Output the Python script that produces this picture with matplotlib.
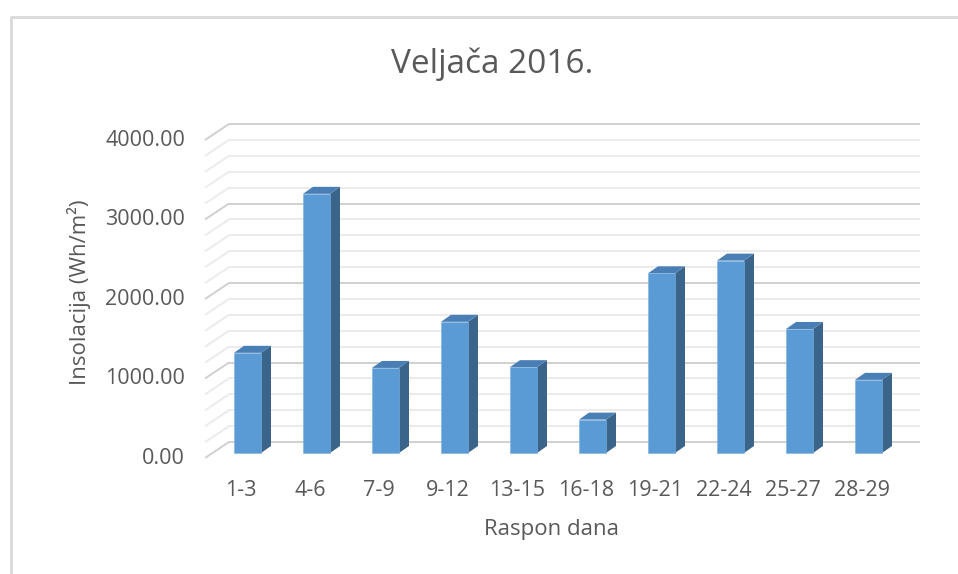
import numpy as np
import matplotlib
matplotlib.use("Agg")
import matplotlib.pyplot as plt
from matplotlib.patches import Polygon

# data
categories = ["1-3", "4-6", "7-9", "9-12", "13-15", "16-18", "19-21", "22-24", "25-27", "28-29"]
values = [1260, 3260, 1070, 1650, 1080, 420, 2260, 2420, 1560, 920]
ytick_values = [0, 1000, 2000, 3000, 4000]
ytick_labels = ["0.00", "1000.00", "2000.00", "3000.00", "4000.00"]

title = "Veljača 2016."
xlabel = "Raspon dana"
ylabel = "Insolacija (Wh/m²)"

plt.rcParams['font.family'] = ['Open Sans', 'DejaVu Sans']
txt_col = '#595959'

# pixel layout: 1 category = 69 px, 1000 units = 79.5 px, front zero at y=458
W, H = 958, 574
sx = 69.0
sy = 0.0795
x0px = 241.0
y0px = 458.0

def dx(px):
    return (px - x0px) / sx

def dy(py):
    return (y0px - py) / sy

fig = plt.figure(figsize=(W / 100.0, H / 100.0), dpi=100)
ax = fig.add_axes([0, 0, 1, 1])
ax.set_xlim(dx(0), dx(W))
ax.set_ylim(dy(H), dy(0))
ax.axis('off')

# depth of the 3d box
depth_x = 24 / sx
depth_y = 16 / sy
front_left = dx(205)
back_right = dx(920)

# grid on the back wall + the diagonals on the left wall
for v in np.arange(0, 4001, 200):
    major = (v % 1000 == 0)
    col = '#D0D0D0' if major else '#EBEBEB'
    ax.plot([front_left + depth_x, back_right], [v + depth_y, v + depth_y],
            color=col, lw=1.4, zorder=1, solid_capstyle='butt')
    ax.plot([front_left, front_left + depth_x], [v, v + depth_y],
            color=col, lw=1.4, zorder=1, solid_capstyle='butt')

# bars (front, top and side faces)
bar_off = -7 / sx
bar_w = 27 / sx
bar_bot = 5 / sy
bdx = 10 / sx
bdy = 7 / sy
c_front = '#5B9BD5'
c_top = '#4A7FB5'
c_side = '#3A6489'

for i, v in enumerate(values):
    xl = i + bar_off
    xr = xl + bar_w
    b = bar_bot
    t = bar_bot + v
    ax.add_patch(Polygon([(xr, b), (xr + bdx, b + bdy), (xr + bdx, t + bdy), (xr, t)],
                         closed=True, facecolor=c_side, edgecolor='none', zorder=3))
    ax.add_patch(Polygon([(xl, t), (xr, t), (xr + bdx, t + bdy), (xl + bdx, t + bdy)],
                         closed=True, facecolor=c_top, edgecolor='none', zorder=3))
    ax.add_patch(Polygon([(xl, b), (xr, b), (xr, t), (xl, t)],
                         closed=True, facecolor=c_front, edgecolor='#7FB2E0', lw=0.4, zorder=4))

# axis tick labels
for v, lab in zip(ytick_values, ytick_labels):
    ax.text(dx(185), v, lab, ha='right', va='center', fontsize=15.5, color=txt_col)
for i, lab in enumerate(categories):
    ax.text(i, dy(490), lab, ha='center', va='center', fontsize=15.5, color=txt_col)

ax.text(dx(492), dy(64), title, ha='center', va='center', fontsize=24, color=txt_col)
ax.text(dx(551), dy(530), xlabel, ha='center', va='center', fontsize=16, color=txt_col)
ax.text(dx(79), dy(292), ylabel, ha='center', va='center', fontsize=16,
        color=txt_col, rotation=90)

# chart border
ax.plot([dx(11), dx(11), dx(W + 5)], [dy(H + 5), dy(17), dy(17)],
        color='#D9D9D9', lw=2, zorder=0, clip_on=False)

fig.savefig("out.png", dpi=100)
